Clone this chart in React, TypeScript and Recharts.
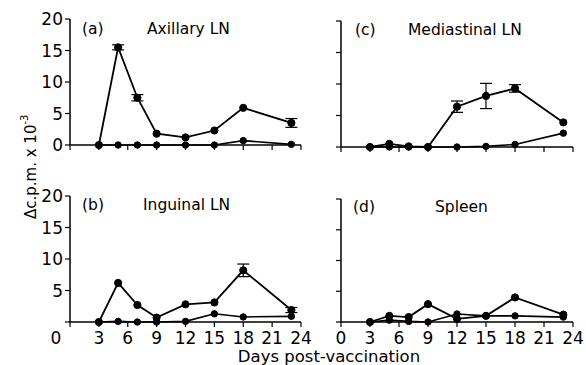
import React from 'react';
import { LineChart, Line, XAxis, YAxis, ErrorBar } from 'recharts';

const days = [3, 5, 7, 9, 12, 15, 18, 23];
const xTicks = [0, 3, 6, 9, 12, 15, 18, 21, 24];
const yTicks = [0, 5, 10, 15, 20];

const axillaryImm = [0, 15.5, 7.5, 1.8, 1.2, 2.3, 5.9, 3.5];
const axillaryErr = [null, 0.4, 0.5, null, null, null, null, 0.7];
const axillaryCtrl = [0, 0, 0, 0, 0, 0, 0.7, 0.1];

const mediastinalImm = [0, 0.5, 0.1, 0, 6.4, 8.1, 9.3, 3.9];
const mediastinalErr = [null, null, null, null, 0.9, 2.0, 0.6, null];
const mediastinalCtrl = [0, 0, 0, 0, 0, 0.1, 0.4, 2.2];

const inguinalImm = [0, 6.2, 2.7, 0.7, 2.8, 3.1, 8.2, 1.9];
const inguinalErr = [null, null, null, null, null, null, 1.0, 0.4];
const inguinalCtrl = [0, 0.1, 0, 0, 0.1, 1.3, 0.8, 0.9];

const spleenImm = [0, 1.0, 0.8, 2.9, 0.5, 1.0, 4.0, 1.2];
const spleenErr = [null, null, null, null, null, null, null, null];
const spleenCtrl = [0, 0.3, 0.1, 0, 1.3, 1.0, 1.0, 0.8];

const build = (imm: number[], err: (number | null)[], ctrl: number[]) =>
  days.map((d, i) => ({ day: d, imm: imm[i], err: err[i], ctrl: ctrl[i] }));

const font = '"DejaVu Sans", sans-serif';

const renderXTick = (shiftZero: boolean) => (props: any) => {
  const { x, y, payload } = props;
  const dx = payload.value === 0 && shiftZero ? -14 : 0;
  return (
    <text x={x + dx} y={y} dy="0.71em" textAnchor="middle" fontSize={17} fill="#000" fontFamily={font}>
      {String(payload.value)}
    </text>
  );
};

const renderYTick = (hideZero: boolean) => (props: any) => {
  const { x, y, payload } = props;
  if (hideZero && payload.value === 0) return <g />;
  return (
    <text x={x} y={y} dy="0.36em" textAnchor="end" fontSize={17} fill="#000" fontFamily={font}>
      {String(payload.value)}
    </text>
  );
};

const noTick = () => <g />;

type PanelProps = {
  data: any[];
  left: number;
  top: number;
  width: number;
  height: number;
  marginTop: number;
  marginRight: number;
  yWidth: number;
  xHeight: number;
  showX: boolean;
  showY: boolean;
  shiftZero?: boolean;
  hideZero?: boolean;
};

const Panel = (p: PanelProps) => (
  <div style={{ position: 'absolute', left: p.left, top: p.top }}>
    <LineChart
      width={p.width}
      height={p.height}
      data={p.data}
      margin={{ top: p.marginTop, right: p.marginRight, left: 0, bottom: 0 }}
      style={{ overflow: 'visible' }}
    >
      <XAxis
        dataKey="day"
        type="number"
        domain={[0, 24]}
        ticks={xTicks}
        interval={0}
        height={p.xHeight}
        axisLine={{ stroke: '#000', strokeWidth: 1.5 }}
        tickLine={{ stroke: '#000', strokeWidth: 1.2 }}
        tickSize={5}
        tickMargin={5}
        tick={p.showX ? renderXTick(!!p.shiftZero) : noTick}
      />
      <YAxis
        type="number"
        domain={[0, 20]}
        ticks={yTicks}
        interval={0}
        minTickGap={0}
        width={p.yWidth}
        axisLine={{ stroke: '#000', strokeWidth: 1.5 }}
        tickLine={{ stroke: '#000', strokeWidth: 1.2 }}
        tickSize={5}
        tickMargin={2}
        tick={p.showY ? renderYTick(!!p.hideZero) : noTick}
      />
      <Line
        dataKey="ctrl"
        stroke="#000"
        strokeWidth={1.6}
        dot={{ r: 3.2, fill: '#000', stroke: '#000', strokeWidth: 1 }}
        isAnimationActive={false}
      />
      <Line
        dataKey="imm"
        stroke="#000"
        strokeWidth={1.8}
        dot={{ r: 3.6, fill: '#000', stroke: '#000', strokeWidth: 1 }}
        isAnimationActive={false}
      >
        <ErrorBar dataKey="err" width={6} stroke="#000" strokeWidth={1.2} direction="y" />
      </Line>
    </LineChart>
  </div>
);

const Label = ({ x, y, children }: { x: number; y: number; children: React.ReactNode }) => (
  <div
    style={{
      position: 'absolute',
      left: x,
      top: y - 9,
      fontSize: 15.5,
      lineHeight: '18px',
      whiteSpace: 'nowrap',
      color: '#000',
    }}
  >
    {children}
  </div>
);

export default function App() {
  return (
    <div
      style={{
        position: 'absolute',
        left: 0,
        top: 0,
        width: 586,
        height: 365,
        background: '#fff',
        fontFamily: font,
        overflow: 'hidden',
      }}
    >
      <Panel data={build(axillaryImm, axillaryErr, axillaryCtrl)} left={0} top={0} width={320} height={170}
        marginTop={19} marginRight={19} yWidth={70} xHeight={25} showX={false} showY />
      <Panel data={build(mediastinalImm, mediastinalErr, mediastinalCtrl)} left={300} top={0} width={286} height={170}
        marginTop={21} marginRight={13} yWidth={41} xHeight={23} showX={false} showY={false} />
      <Panel data={build(inguinalImm, inguinalErr, inguinalCtrl)} left={0} top={180} width={320} height={185}
        marginTop={16} marginRight={19} yWidth={70} xHeight={43} showX showY shiftZero hideZero />
      <Panel data={build(spleenImm, spleenErr, spleenCtrl)} left={300} top={180} width={286} height={185}
        marginTop={19} marginRight={13} yWidth={41} xHeight={43} showX showY={false} />

      <div
        style={{
          position: 'absolute',
          left: 16,
          top: 97,
          width: 18,
          height: 140,
          writingMode: 'vertical-rl',
          transform: 'rotate(180deg)',
          textAlign: 'center',
          fontSize: 15,
          lineHeight: '18px',
          whiteSpace: 'nowrap',
        }}
      >
        Δc.p.m. x 10<sup style={{ fontSize: 10 }}>-3</sup>
      </div>

      <Label x={82} y={29}>(a)</Label>
      <Label x={147} y={29}>Axillary LN</Label>
      <Label x={355} y={30}>(c)</Label>
      <Label x={408} y={30}>Mediastinal LN</Label>
      <Label x={82} y={205}>(b)</Label>
      <Label x={143} y={205}>Inguinal LN</Label>
      <Label x={353} y={207}>(d)</Label>
      <Label x={435} y={207}>Spleen</Label>

      <div
        style={{
          position: 'absolute',
          left: 329 - 120,
          top: 348,
          width: 240,
          textAlign: 'center',
          fontSize: 16.5,
          lineHeight: '18px',
          whiteSpace: 'nowrap',
        }}
      >
        Days post-vaccination
      </div>
    </div>
  );
}
